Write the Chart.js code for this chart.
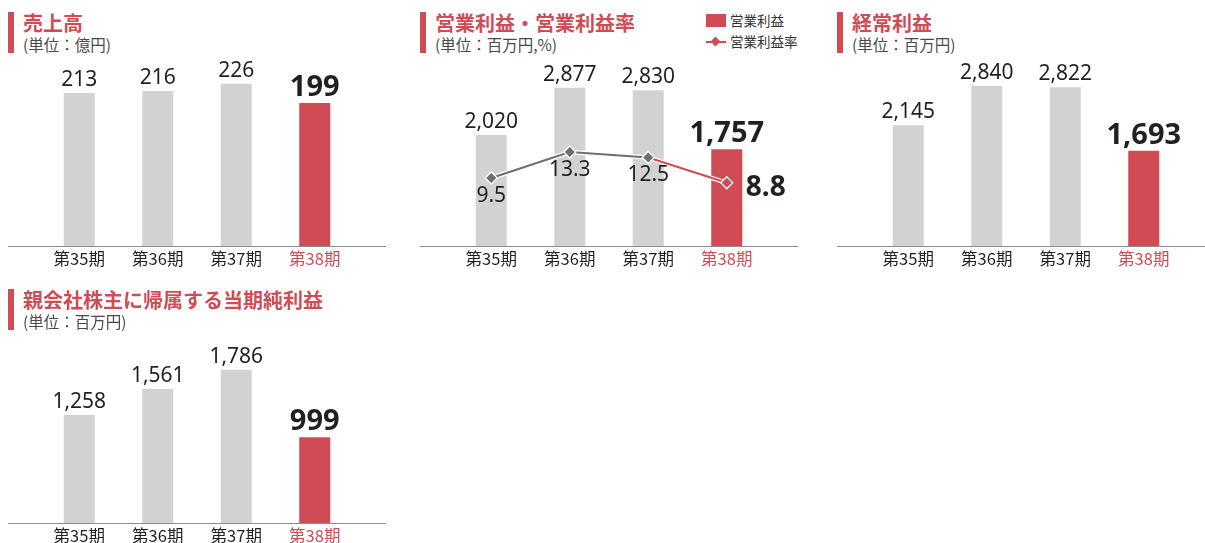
<!DOCTYPE html>
<html>
<head>
<meta charset="utf-8">
<script src="https://cdn.jsdelivr.net/npm/chart.js@4"></script>
<style>
body { margin: 0; width: 1205px; height: 543px; overflow: hidden; background: #fff; position: relative; font-family: "Noto Sans CJK JP", sans-serif; }
.panel { position: absolute; width: 400px; height: 280px; }
.panel canvas { position: absolute; left: 8px; top: 0; }
.head { position: absolute; left: 8px; top: 12px; height: 41px; border-left: 6px solid #d14b55; padding-left: 9px; }
.title { font-size: 20px; font-weight: bold; color: #d14b55; line-height: 22px; }
.unit { font-size: 15.5px; color: #4a4a4a; line-height: 20px; }
.legend { position: absolute; left: 294px; top: 10px; font-size: 13.5px; color: #333; line-height: 21px; }
.legend div { position: relative; padding-left: 24px; }
.legend .sq { position: absolute; left: 0; top: 4px; width: 20px; height: 13px; background: #d14b55; }
.legend .ln { position: absolute; left: 0; top: 10px; width: 20px; height: 2px; background: #d14b55; }
.legend .dm { position: absolute; left: 6px; top: 7px; width: 7px; height: 7px; background: #d14b55; transform: rotate(45deg); }
</style>
</head>
<body>

<div class="panel" style="left:0;top:0">
  <div class="head"><div class="title">売上高</div><div class="unit">(単位：億円)</div></div>
  <canvas id="sales" width="378" height="280"></canvas>
</div>

<div class="panel" style="left:412px;top:0">
  <div class="head"><div class="title">営業利益・営業利益率</div><div class="unit">(単位：百万円,%)</div></div>
  <div class="legend">
    <div><span class="sq"></span>営業利益</div>
    <div><span class="ln"></span><span class="dm"></span>営業利益率</div>
  </div>
  <canvas id="operating" width="378" height="280"></canvas>
</div>

<div class="panel" style="left:829px;top:0">
  <div class="head"><div class="title">経常利益</div><div class="unit">(単位：百万円)</div></div>
  <canvas id="ordinary" width="378" height="280"></canvas>
</div>

<div class="panel" style="left:0;top:277px">
  <div class="head"><div class="title">親会社株主に帰属する当期純利益</div><div class="unit">(単位：百万円)</div></div>
  <canvas id="netIncome" width="378" height="280"></canvas>
</div>

<script>
const periods = ['第35期', '第36期', '第37期', '第38期'];
const sales = [213, 216, 226, 199];
const operatingProfit = [2020, 2877, 2830, 1757];
const operatingMargin = [9.5, 13.3, 12.5, 8.8];
const ordinaryProfit = [2145, 2840, 2822, 1693];
const netIncome = [1258, 1561, 1786, 999];

const red = '#d14b55';
const gray = '#d1d2d4';
const lineGray = '#6d6e71';
const dark = '#231f20';
const numFont = '"Noto Sans", "Noto Sans CJK JP", sans-serif';
const jpFont = '"Noto Sans CJK JP", sans-serif';

const barColors = values => values.map((v, i) => i === values.length - 1 ? red : gray);

// baseline across the whole panel, wider than the plot area
const baseline = {
    id: 'baseline',
    afterDatasetsDraw(chart) {
        const ctx = chart.ctx;
        const y = chart.chartArea.bottom + 0.5;
        ctx.save();
        ctx.strokeStyle = '#8c8c8c';
        ctx.lineWidth = 1.2;
        ctx.beginPath();
        ctx.moveTo(0, y);
        ctx.lineTo(chart.width, y);
        ctx.stroke();
        ctx.restore();
    }
};

// value labels on top of the bars, last one bold and bigger
const barLabels = {
    id: 'barLabels',
    afterDatasetsDraw(chart) {
        const ctx = chart.ctx;
        chart.data.datasets.forEach((ds, di) => {
            if (ds.type === 'line') return;
            const meta = chart.getDatasetMeta(di);
            meta.data.forEach((bar, i) => {
                const last = i === meta.data.length - 1;
                ctx.save();
                ctx.fillStyle = dark;
                ctx.textAlign = 'center';
                ctx.textBaseline = 'alphabetic';
                ctx.font = last ? 'bold 29px ' + numFont : '21px ' + numFont;
                ctx.fillText(ds.data[i].toLocaleString('en-US'), bar.x, bar.y - 7);
                ctx.restore();
            });
        });
    }
};

// labels for the margin line
const lineLabels = {
    id: 'lineLabels',
    afterDatasetsDraw(chart) {
        const ctx = chart.ctx;
        chart.data.datasets.forEach((ds, di) => {
            if (ds.type !== 'line' || ds.casing) return;
            const meta = chart.getDatasetMeta(di);
            meta.data.forEach((pt, i) => {
                const last = i === meta.data.length - 1;
                ctx.save();
                ctx.fillStyle = dark;
                ctx.textBaseline = 'middle';
                if (last) {
                    ctx.font = 'bold 28px ' + numFont;
                    ctx.textAlign = 'left';
                    ctx.fillText(ds.data[i].toFixed(1), pt.x + 19, pt.y + 5);
                } else {
                    ctx.font = '21px ' + numFont;
                    ctx.textAlign = 'center';
                    ctx.fillText(ds.data[i].toFixed(1), pt.x, pt.y + 18);
                }
                ctx.restore();
            });
        });
    }
};

function baseOptions(yMax) {
    return {
        responsive: false,
        animation: false,
        layout: { padding: { left: 32, right: 32, top: 60, bottom: 0 } },
        plugins: { legend: { display: false }, tooltip: { enabled: false } },
        scales: {
            x: {
                grid: { display: false, drawTicks: false },
                border: { display: false },
                ticks: {
                    padding: 3,
                    font: { size: 16.5, family: jpFont },
                    color: ctx => ctx.index === periods.length - 1 ? red : dark
                },
                afterFit: s => { s.height = 34; }
            },
            y: { display: false, min: 0, max: yMax }
        }
    };
}

function barChart(id, values, yMax) {
    return new Chart(document.getElementById(id), {
        type: 'bar',
        data: {
            labels: periods,
            datasets: [{
                data: values,
                backgroundColor: barColors(values),
                categoryPercentage: 1,
                barPercentage: 0.395
            }]
        },
        options: baseOptions(yMax),
        plugins: [baseline, barLabels]
    });
}

barChart('sales', sales, 259);
barChart('ordinary', ordinaryProfit, 3304);
barChart('netIncome', netIncome, 2168);

const opOptions = baseOptions(3382);
opOptions.scales.y2 = { display: false, min: -0.44, max: 26.75 };

new Chart(document.getElementById('operating'), {
    type: 'bar',
    data: {
        labels: periods,
        datasets: [{
            type: 'line',
            data: operatingMargin,
            yAxisID: 'y2',
            order: 0,
            borderWidth: 2,
            borderColor: lineGray,
            segment: {
                borderColor: ctx => ctx.p1DataIndex === operatingMargin.length - 1 ? red : lineGray
            },
            pointStyle: 'rectRot',
            pointRadius: 6,
            pointBorderWidth: 1.3,
            pointBackgroundColor: operatingMargin.map((v, i) => i === operatingMargin.length - 1 ? red : lineGray),
            pointBorderColor: '#fff'
        }, {
            // thin white casing under the margin line
            type: 'line',
            casing: true,
            data: operatingMargin,
            yAxisID: 'y2',
            order: 0.5,
            borderWidth: 4.5,
            borderColor: '#fff',
            pointRadius: 0
        }, {
            type: 'bar',
            data: operatingProfit,
            yAxisID: 'y',
            order: 1,
            backgroundColor: barColors(operatingProfit),
            categoryPercentage: 1,
            barPercentage: 0.395
        }]
    },
    options: opOptions,
    plugins: [baseline, barLabels, lineLabels]
});
</script>
</body>
</html>
